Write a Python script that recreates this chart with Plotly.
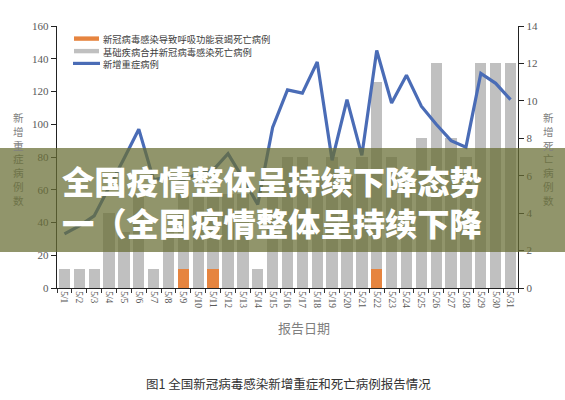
import plotly.graph_objects as go

# ---------------- data ----------------
dates = ["5/1", "5/2", "5/3", "5/4", "5/5", "5/6", "5/7", "5/8", "5/9", "5/10",
         "5/11", "5/12", "5/13", "5/14", "5/15", "5/16", "5/17", "5/18", "5/19", "5/20",
         "5/21", "5/22", "5/23", "5/24", "5/25", "5/26", "5/27", "5/28", "5/29", "5/30", "5/31"]

# 新增重症病例 (left axis)
severe = [33, 38, 44, 61, 79, 97, 66, 68, 66, 70,
          72, 82, 67, 51, 98, 121, 119, 138, 78, 115,
          81, 145, 113, 130, 111, 100, 90, 86, 131, 125, 115]

# 新冠病毒感染导致呼吸功能衰竭死亡病例 (right axis)
resp_fail = [0, 0, 0, 0, 0, 0, 0, 0, 1, 0,
             1, 0, 0, 0, 0, 0, 0, 0, 0, 0,
             0, 1, 0, 0, 0, 0, 0, 0, 0, 0, 0]

# 基础疾病合并新冠病毒感染死亡病例 (right axis)
underlying = [1, 1, 1, 4, 3, 5, 1, 3, 4, 5,
              4, 5, 5, 1, 5, 7, 7, 6, 7, 6,
              7, 10, 7, 6, 8, 12, 8, 7, 12, 12, 12]

left_ticks = [0, 20, 40, 60, 80, 100, 120, 140, 160]
right_ticks = [0, 2, 4, 6, 8, 10, 12, 14]

legend_names = ["新冠病毒感染导致呼吸功能衰竭死亡病例",
                "基础疾病合并新冠病毒感染死亡病例",
                "新增重症病例"]

ORANGE = "#e6843f"
GRAY = "#c0c0c0"
BLUE = "#4a6cb6"

# ---------------- geometry helpers ----------------
W, H = 565, 400
L, R, T, B = 57, 47, 26, 112
PW, PH = W - L - R, H - T - B


def px(x):
    return (x - L) / PW


def py(y):
    return (H - B - y) / PH


BAND_TOP, BAND_BOT = 148, 252
BAND_RGB = (104, 110, 52)
BAND_A = 0.73


def under_band(rgb):
    return "rgb(%d,%d,%d)" % tuple(
        round(BAND_RGB[i] * BAND_A + rgb[i] * (1 - BAND_A)) for i in range(3))


def block(lines, spacing, colors=None, glyph=None):
    """One multi-line text block; plotly line spacing is 1.3 x font size."""
    size = spacing / 1.3
    out = []
    for i, t in enumerate(lines):
        st = []
        if colors:
            st.append("color:%s" % colors[i])
        if glyph:
            st.append("font-size:%.1fpx" % glyph)
        out.append('<span style="%s">%s</span>' % (";".join(st), t) if st else t)
    return "<br>".join(out), size


fig = go.Figure()

fig.add_trace(go.Bar(x=dates, y=resp_fail, name=legend_names[0],
                     marker=dict(color=ORANGE, line=dict(width=0)),
                     yaxis="y", showlegend=False))
fig.add_trace(go.Bar(x=dates, y=underlying, name=legend_names[1],
                     marker=dict(color=GRAY, line=dict(width=0)),
                     yaxis="y", showlegend=False))
fig.add_trace(go.Scatter(x=dates, y=severe, name=legend_names[2], mode="lines",
                         line=dict(color=BLUE, width=3.2),
                         yaxis="y2", showlegend=False))

tickfont = dict(family="Liberation Serif", size=11, color="#595959")

fig.update_layout(
    width=W, height=H,
    margin=dict(l=L, r=R, t=T, b=B),
    paper_bgcolor="white", plot_bgcolor="white",
    barmode="stack", bargap=0.24,
    xaxis=dict(type="category", tickangle=90, ticks="outside", ticklen=4,
               tickson="boundaries", tickcolor="#333",
               showline=True, linecolor="#222", linewidth=1.3,
               tickfont=dict(family="Liberation Serif", size=9.5, color="#595959"),
               showgrid=False, zeroline=False, fixedrange=True),
    yaxis=dict(side="right", range=[0, 14], tickvals=right_ticks,
               ticks="outside", ticklen=5, tickcolor="#222",
               showline=True, linecolor="#222", linewidth=1.3,
               showgrid=False, zeroline=False, tickfont=tickfont),
    yaxis2=dict(side="left", overlaying="y", anchor="x", range=[0, 160],
                tickvals=left_ticks, ticks="outside", ticklen=5, tickcolor="#222",
                showline=True, linecolor="#222", linewidth=1.3,
                showgrid=False, zeroline=False, tickfont=tickfont),
)

shapes = []
annotations = []

# ---- custom legend ----
leg_rows = [38.5, 51.1, 63.7]
shapes.append(dict(type="rect", xref="paper", yref="paper",
                   x0=px(74), x1=px(99), y0=py(40.8), y1=py(36.4),
                   fillcolor=ORANGE, line=dict(width=0)))
shapes.append(dict(type="rect", xref="paper", yref="paper",
                   x0=px(74), x1=px(99), y0=py(53.3), y1=py(48.9),
                   fillcolor=GRAY, line=dict(width=0)))
shapes.append(dict(type="line", xref="paper", yref="paper",
                   x0=px(73), x1=px(100), y0=py(63.4), y1=py(63.4),
                   line=dict(color=BLUE, width=3.2)))
leg_text, leg_size = block(legend_names, leg_rows[1] - leg_rows[0], glyph=9.3)
annotations.append(dict(text=leg_text, xref="paper", yref="paper",
                        x=px(101.5), y=py(leg_rows[1]), xanchor="left", yanchor="middle",
                        showarrow=False, align="left", borderpad=0,
                        font=dict(family="Noto Sans CJK SC", size=leg_size, color="#404040")))

# ---- vertical axis titles (one character per line, single text block) ----
char_step = 13.8
title_top = 118
for chars, xpos in (("新增重症病例数", 18), ("新增死亡病例数", 548)):
    cols = []
    for i in range(len(chars)):
        yy = title_top + i * char_step
        inside = BAND_TOP + 4 < yy < BAND_BOT
        cols.append(under_band((128, 128, 128)) if inside else "rgb(128,128,128)")
    txt, size = block(list(chars), char_step, cols)
    center = title_top + (len(chars) - 1) * char_step / 2
    annotations.append(dict(text=txt, xref="paper", yref="paper",
                            x=px(xpos), y=py(center), xanchor="center", yanchor="middle",
                            showarrow=False, align="center", borderpad=0,
                            font=dict(family="Noto Sans CJK SC", size=size,
                                      color="rgb(128,128,128)")))

# ---- x axis title & caption ----
annotations.append(dict(text="报告日期", xref="paper", yref="paper",
                        x=px(304), y=py(327), xanchor="center", yanchor="middle",
                        showarrow=False,
                        font=dict(family="Noto Sans CJK SC", size=13, color="#7f7f7f")))
annotations.append(dict(text="图1 全国新冠病毒感染新增重症和死亡病例报告情况",
                        xref="paper", yref="paper",
                        x=px(288), y=py(383), xanchor="center", yanchor="middle",
                        showarrow=False,
                        font=dict(family="Noto Sans CJK SC", size=12.5, color="#333333")))

# ---- overlay band with headline text ----
shapes.append(dict(type="rect", xref="paper", yref="paper", layer="above",
                   x0=px(0), x1=px(W), y0=py(BAND_BOT), y1=py(BAND_TOP),
                   fillcolor="rgba(%d,%d,%d,%.2f)" % (BAND_RGB + (BAND_A,)),
                   line=dict(width=0)))
headline = ["全国疫情整体呈持续下降态势", "一（全国疫情整体呈持续下降"]
hl_rows = [180, 222]
hl_text, hl_size = block(headline, hl_rows[1] - hl_rows[0])
annotations.append(dict(text=hl_text, xref="paper", yref="paper",
                        x=px(61), y=py((hl_rows[0] + hl_rows[1]) / 2),
                        xanchor="left", yanchor="middle",
                        showarrow=False, align="left", borderpad=0,
                        font=dict(family="Noto Sans CJK SC", size=hl_size,
                                  color="white", weight=900)))

fig.update_layout(shapes=shapes, annotations=annotations)

fig.write_html("out.html",
               config={"displayModeBar": False, "staticPlot": True},
               post_script="document.body.style.margin='0';document.body.style.overflow='hidden';")
